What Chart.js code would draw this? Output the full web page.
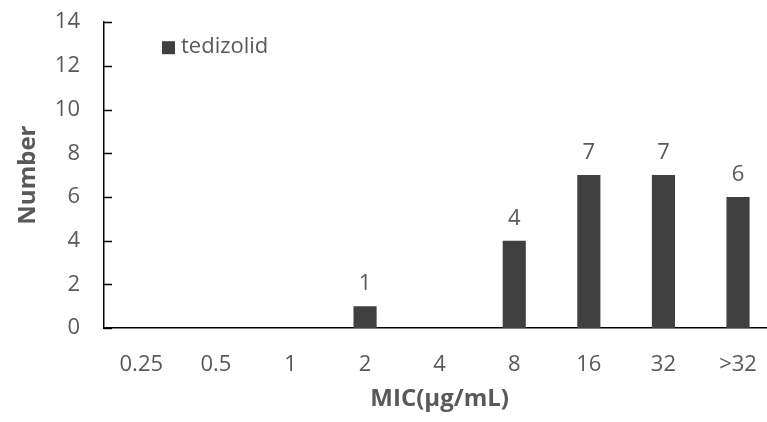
<!DOCTYPE html>
<html>
<head>
<meta charset="utf-8">
<script src="https://cdn.jsdelivr.net/npm/chart.js@4/dist/chart.umd.min.js"></script>
<style>
  html, body { margin: 0; padding: 0; background: #fff; overflow: hidden; }
  #wrap { width: 781px; height: 437px; margin-top: -15px; }
</style>
</head>
<body>
<div id="wrap"><canvas id="c"></canvas></div>
<script>
const micLabels = ["0.25", "0.5", "1", "2", "4", "8", "16", "32", ">32"];
const tedizolidCounts = [0, 0, 0, 1, 0, 4, 7, 7, 6];
const seriesName = "tedizolid";

const barColor = "#404040";
const textColor = "#595959";
const fontFamily = "'Open Sans', 'Liberation Sans', sans-serif";

/* inside tick marks, value labels and the legend box */
const extras = {
  id: "extras",
  afterDraw(chart) {
    const ctx = chart.ctx;
    const y = chart.scales.y;
    const area = chart.chartArea;
    ctx.save();
    ctx.strokeStyle = "#000";
    ctx.lineWidth = 1.5;
    y.ticks.forEach(t => {
      const py = Math.round(y.getPixelForValue(t.value)) + 0.5;
      ctx.beginPath();
      ctx.moveTo(area.left, py);
      ctx.lineTo(area.left + 8, py);
      ctx.stroke();
    });

    // value labels over the bars
    const meta = chart.getDatasetMeta(0);
    ctx.fillStyle = textColor;
    ctx.font = "22px " + fontFamily;
    ctx.textAlign = "center";
    ctx.textBaseline = "middle";
    meta.data.forEach((bar, i) => {
      const v = tedizolidCounts[i];
      if (v > 0) ctx.fillText(String(v), bar.x, bar.y - 22);
    });

    // legend, top left inside the plot
    const lx = area.left + 58, ly = area.top + 19;
    ctx.fillStyle = barColor;
    ctx.fillRect(lx, ly, 13, 13);
    ctx.fillStyle = textColor;
    ctx.textAlign = "left";
    ctx.fillText(seriesName, lx + 19, ly + 6);
    ctx.restore();
  }
};

new Chart(document.getElementById("c"), {
  type: "bar",
  data: {
    labels: micLabels,
    datasets: [{
      label: seriesName,
      data: tedizolidCounts,
      backgroundColor: barColor,
      barPercentage: 0.31,
      categoryPercentage: 1
    }]
  },
  options: {
    responsive: true,
    maintainAspectRatio: false,
    animation: false,
    layout: { padding: { top: 0, right: 2, bottom: 0, left: 0 } },
    plugins: {
      legend: { display: false },
      tooltip: { enabled: false }
    },
    scales: {
      x: {
        grid: { display: false, drawTicks: false },
        border: { color: "#000", width: 1.5 },
        ticks: { color: textColor, font: { size: 22, family: fontFamily }, padding: 24 },
        title: {
          display: true,
          text: "MIC(μg/mL)",
          color: textColor,
          font: { size: 24, weight: "bold", family: fontFamily },
          padding: { top: 4, bottom: 8 }
        },
        afterFit(scale) { scale.height = 94; }
      },
      y: {
        min: 0,
        max: 14,
        grid: { display: false, drawTicks: false },
        border: { color: "#000", width: 1.5 },
        ticks: { stepSize: 2, color: textColor, font: { size: 22, family: fontFamily }, padding: 24 },
        title: {
          display: true,
          text: "Number",
          color: textColor,
          font: { size: 24, weight: "bold", family: fontFamily },
          padding: { top: 14, bottom: 0 }
        },
        afterFit(scale) { scale.width = 104; }
      }
    }
  },
  plugins: [extras]
});
</script>
</body>
</html>
